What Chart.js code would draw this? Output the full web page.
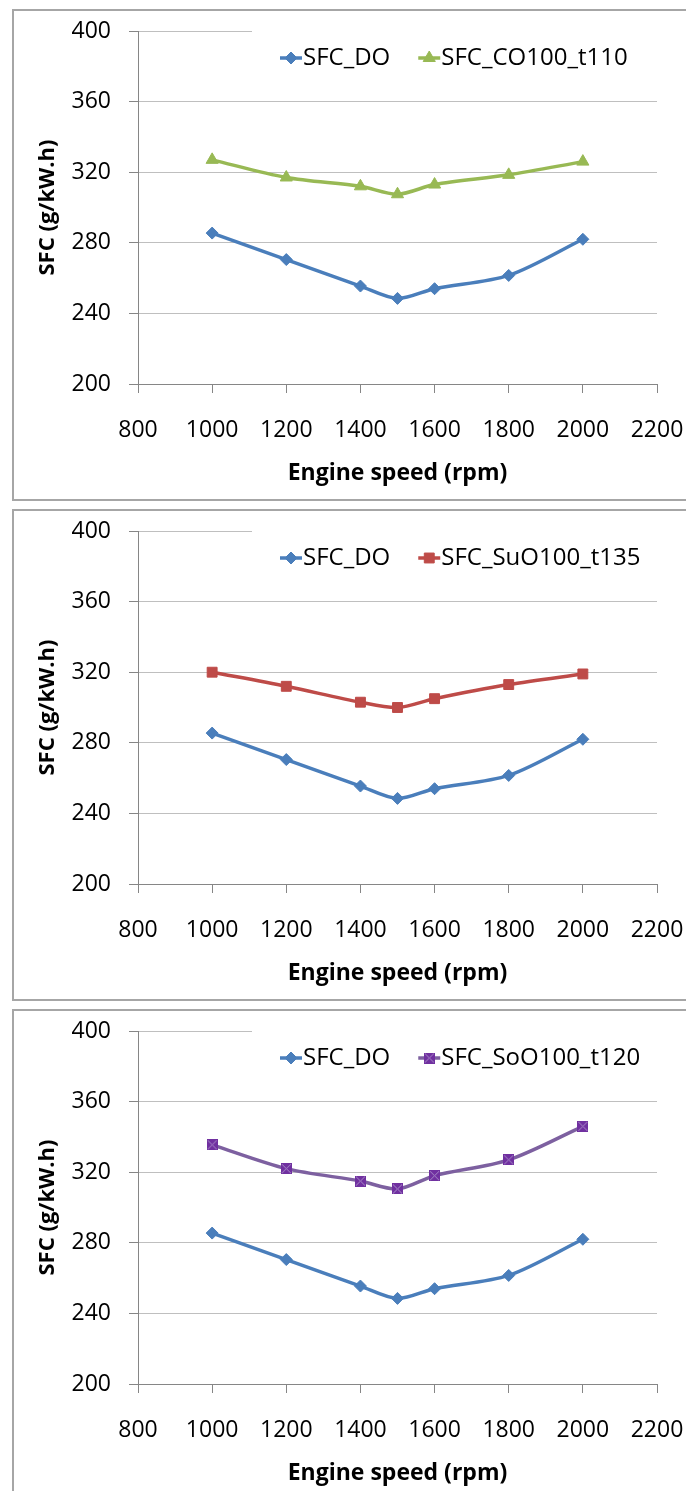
<!DOCTYPE html>
<html>
<head>
<meta charset="utf-8">
<script src="https://cdn.jsdelivr.net/npm/chart.js@4.4.0/dist/chart.umd.min.js"></script>
<style>
  html, body { margin: 0; padding: 0; background: #fff; }
  body { width: 686px; height: 1491px; overflow: hidden; position: relative; }
  .panel { position: absolute; left: 12px; width: 700px; border: 2px solid #a6a6a6; box-sizing: border-box; }
  canvas { position: absolute; left: 13px; }
</style>
</head>
<body>
<div class="panel" style="top:9px;height:492px"></div>
<div class="panel" style="top:509px;height:492px"></div>
<div class="panel" style="top:1009px;height:600px"></div>
<canvas id="c1" width="673" height="486" style="top:12px"></canvas>
<canvas id="c2" width="673" height="486" style="top:512px"></canvas>
<canvas id="c3" width="673" height="486" style="top:1012px"></canvas>
<script>
const speed = [1000, 1200, 1400, 1500, 1600, 1800, 2000]
const sfcDO = [285.5, 270.5, 255.5, 248.5, 254, 261.5, 282]
const sfcCO100 = [327, 317, 312, 307.5, 313, 318.5, 326]
const sfcSuO100 = [320, 312, 303, 300, 305, 313, 319]
const sfcSoO100 = [335.5, 322, 315, 310.5, 318, 327, 346]
const yTicks = [200, 240, 280, 320, 360, 400]
const xTicks = [800, 1000, 1200, 1400, 1600, 1800, 2000, 2200]

const FONT = "'Open Sans', 'Noto Sans', sans-serif"

// square marker with a faint x, like the purple series
function squareX(fill, cross) {
  const c = document.createElement('canvas')
  c.width = 11; c.height = 11
  const g = c.getContext('2d')
  g.fillStyle = fill
  g.fillRect(0, 0, 11, 11)
  g.strokeStyle = cross
  g.lineWidth = 1
  g.beginPath()
  g.moveTo(1, 1); g.lineTo(10, 10)
  g.moveTo(10, 1); g.lineTo(1, 10)
  g.stroke()
  return c
}

function series(label, values, color, marker, pointStyle, radius) {
  return {
    label: label,
    data: speed.map((s, i) => ({ x: s, y: values[i] })),
    borderColor: color,
    backgroundColor: marker,
    pointBackgroundColor: marker,
    pointBorderColor: marker,
    pointBorderWidth: 1,
    pointStyle: pointStyle,
    pointRadius: radius,
    borderWidth: 3.5,
    tension: 0.3,
    fill: false
  }
}

const insideLegend = {
  id: 'insideLegend',
  afterDatasetsDraw(chart) {
    const ctx = chart.ctx
    const area = chart.chartArea
    ctx.save()
    ctx.fillStyle = '#fff'
    ctx.fillRect(area.left + 114, area.top - 2, area.right - area.left - 112, 50)
    ctx.font = '24px ' + FONT
    ctx.textBaseline = 'middle'
    ctx.fillStyle = '#000'
    let x = area.left + 142
    const y = area.top + 27
    chart.data.datasets.forEach(ds => {
      ctx.strokeStyle = ds.borderColor
      ctx.lineWidth = 3.5
      ctx.beginPath()
      ctx.moveTo(x, y)
      ctx.lineTo(x + 22, y)
      ctx.stroke()
      ctx.fillStyle = ds.pointBackgroundColor
      ctx.strokeStyle = ds.pointBorderColor
      ctx.lineWidth = 1
      Chart.helpers.drawPoint(ctx, { pointStyle: ds.pointStyle, radius: ds.pointRadius, rotation: 0, borderWidth: 1 }, x + 11, y)
      ctx.fillStyle = '#000'
      ctx.fillText(ds.label, x + 23, y)
      x += 23 + ctx.measureText(ds.label).width + 28
    })
    ctx.restore()
  }
}

function makeChart(id, other) {
  new Chart(document.getElementById(id), {
    type: 'line',
    data: {
      datasets: [
        series('SFC_DO', sfcDO, '#4a7ebb', '#4a7ebb', 'rectRot', 6),
        other
      ]
    },
    options: {
      responsive: false,
      animation: false,
      layout: { padding: { top: 19, right: 29, left: 0, bottom: 0 } },
      plugins: {
        legend: { display: false },
        tooltip: { enabled: false }
      },
      scales: {
        x: {
          type: 'linear',
          min: 800,
          max: 2200,
          afterBuildTicks: s => { s.ticks = xTicks.map(v => ({ value: v })) },
          afterFit: s => { s.height = 114; s.paddingLeft = 0; s.paddingRight = 0 },
          ticks: { color: '#000', padding: 24, font: { family: FONT, size: 23 }, callback: v => String(v) },
          grid: { drawOnChartArea: false, tickLength: 9, color: '#868686' },
          border: { color: '#868686', width: 1 },
          title: {
            display: true,
            text: 'Engine speed (rpm)',
            color: '#000',
            font: { family: FONT, size: 23, weight: 'bold' },
            padding: { top: 0, bottom: 11 }
          }
        },
        y: {
          min: 200,
          max: 400,
          afterBuildTicks: s => { s.ticks = yTicks.map(v => ({ value: v })) },
          afterFit: s => { s.width = 125; s.paddingTop = 0; s.paddingBottom = 0 },
          ticks: { color: '#000', padding: 18, font: { family: FONT, size: 23 }, callback: v => String(v) },
          grid: { color: '#bfbfbf', tickLength: 9, tickColor: '#868686' },
          border: { color: '#868686', width: 1 },
          title: {
            display: true,
            text: 'SFC (g/kW.h)',
            color: '#000',
            font: { family: FONT, size: 22, weight: 'bold' },
            padding: { top: 22, bottom: 0 }
          }
        }
      }
    },
    plugins: [insideLegend]
  })
}

makeChart('c1', series('SFC_CO100_t110', sfcCO100, '#98b954', '#98b954', 'triangle', 7))
makeChart('c2', series('SFC_SuO100_t135', sfcSuO100, '#be4b48', '#be4b48', 'rect', 7))
makeChart('c3', series('SFC_SoO100_t120', sfcSoO100, '#7d60a0', '#7030a0', squareX('#7030a0', '#a98cc8'), 6))
</script>
</body>
</html>
